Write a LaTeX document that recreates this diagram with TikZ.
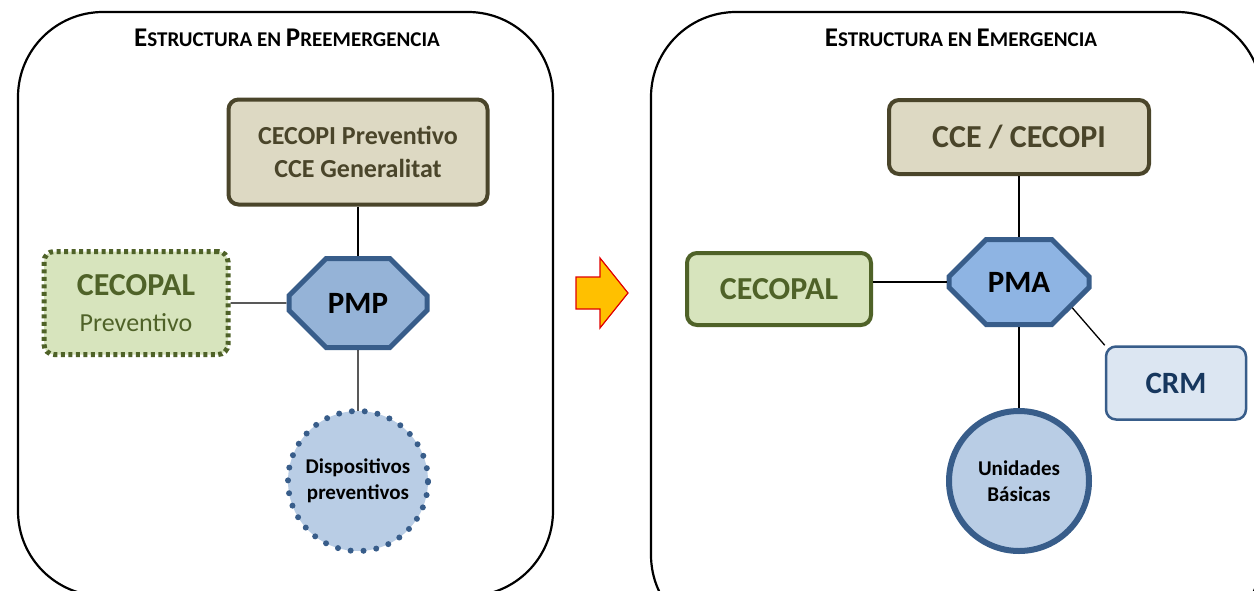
\documentclass[tikz,border=0pt]{standalone}
\usepackage{fontspec}
\setmainfont{Carlito}
\usetikzlibrary{shapes.misc}

\definecolor{tanfill}{HTML}{DDD9C3}
\definecolor{tanline}{HTML}{4A452A}
\definecolor{grnfill}{HTML}{D7E4BD}
\definecolor{grnline}{HTML}{4F6228}
\definecolor{bluline}{HTML}{385D8A}
\definecolor{pmpfill}{HTML}{95B3D7}
\definecolor{pmafill}{HTML}{8EB4E3}
\definecolor{cirfill}{HTML}{B9CDE5}
\definecolor{crmfill}{HTML}{DCE6F2}
\definecolor{crmtext}{HTML}{17375E}
\definecolor{arrfill}{HTML}{FFC000}
\definecolor{arrline}{HTML}{E00000}

\newcommand{\ttlbig}[1]{{\fontsize{27}{30}\selectfont #1}}
\newcommand{\ttlsml}[1]{{\fontsize{21}{24}\selectfont #1}}

\begin{document}
\begin{tikzpicture}[x=1pt, y=-1pt,
    frame/.style = {draw, line width=2.2pt, rounded corners=85pt},
    title/.style = {font=\bfseries},
    tanbox/.style = {draw=tanline, fill=tanfill, line width=4pt, rounded corners=10pt,
        text=tanline, align=center, inner sep=0pt},
    grnbox/.style = {draw=grnline, fill=grnfill, line width=4pt, rounded corners=10pt,
        text=grnline, align=center, inner sep=0pt},
    octa/.style = {chamfered rectangle, chamfered rectangle xsep=26pt, chamfered rectangle ysep=27pt,
        draw=bluline, line width=5pt, inner sep=0pt, font=\fontsize{31}{36}\selectfont\bfseries},
    circ/.style = {circle, fill=cirfill, minimum size=140pt, inner sep=0pt, align=center,
        font=\fontsize{21}{26}\selectfont\bfseries},
    link/.style = {line width=1.3pt}]

    \useasboundingbox (0,0) rectangle (1254,590);
    \clip (0,0) rectangle (1254,590);

    % left frame
    \draw[frame] (18,12) rectangle (553,596);
    \node[title] (t1) at (287,38) {\ttlbig{E}\ttlsml{STRUCTURA EN }\ttlbig{P}\ttlsml{REEMERGENCIA}};

    \node[tanbox, minimum width=259pt, minimum height=105pt,
        font=\fontsize{26}{33}\selectfont\bfseries] (1) at (358,152) {CECOPI Preventivo\\CCE Generalitat};
    \node[octa, fill=pmpfill, minimum width=138pt, minimum height=89pt] (2) at (358,303) {PMP};
    \node[grnbox, line width=5pt, dash pattern=on 4pt off 3.5pt, minimum width=184pt, minimum height=103pt,
        font=\fontsize{26}{36}\selectfont] (3) at (136,303) {{\fontsize{32}{36}\selectfont\bfseries CECOPAL}\\Preventivo};
    \node[circ] (4) at (358,481) {Dispositivos\\preventivos};
    \draw[bluline, line width=6pt, line cap=round, dash pattern=on 0pt off 12.9pt] (4.center) circle (70pt);

    \draw[link] (1) -- (2);
    \draw[link] (3) -- (2);
    \draw[link] (2) -- (4);

    % arrow
    \draw[arrline, fill=arrfill, line width=1.2pt] (576,277) -- (600,277) -- (600,258) -- (628,293)
        -- (600,328) -- (600,309) -- (576,309) -- cycle;

    % right frame
    \draw[frame] (651,12) rectangle (1262,640);
    \node[title] (t2) at (961,38) {\ttlbig{E}\ttlsml{STRUCTURA EN }\ttlbig{E}\ttlsml{MERGENCIA}};

    \node[tanbox, minimum width=260pt, minimum height=74pt,
        font=\fontsize{32}{36}\selectfont\bfseries] (5) at (1019,137) {CCE / CECOPI};
    \node[octa, fill=pmafill, minimum width=140pt, minimum height=85pt] (6) at (1019,282) {PMA};
    \node[grnbox, minimum width=184pt, minimum height=72pt,
        font=\fontsize{32}{36}\selectfont\bfseries] (7) at (779,289) {CECOPAL};
    \node[draw=bluline, fill=crmfill, line width=2.5pt, rounded corners=10pt, text=crmtext,
        minimum width=140pt, minimum height=73pt, font=\fontsize{31}{36}\selectfont\bfseries] (8) at (1176,383) {CRM};
    \node[circ, draw=bluline, line width=6pt] (9) at (1019,481) {Unidades\\Básicas};

    \draw[link] (5) -- (6);
    \draw[link] (6.west) -- (6.west -| 7.east);
    \draw[link] (6.south east) -- (8.north west);
    \draw[link] (6) -- (9);
\end{tikzpicture}
\end{document}
